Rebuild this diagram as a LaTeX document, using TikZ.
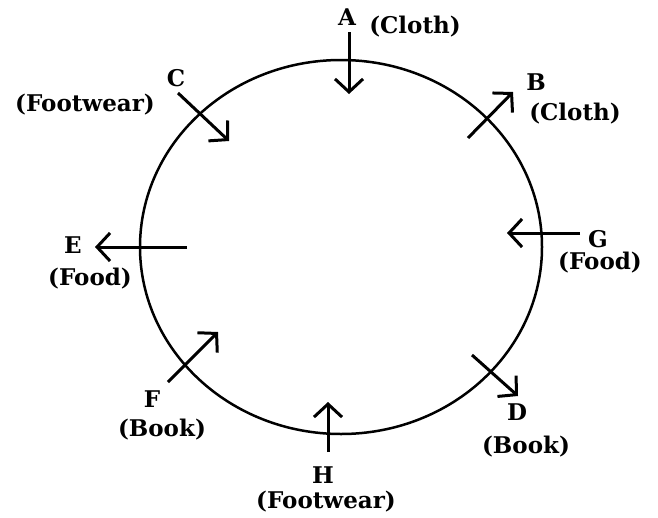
\documentclass[tikz,border=0pt]{standalone}
\usepackage{fontspec}
\setmainfont{DejaVu Serif}
\usetikzlibrary{arrows.meta}
\begin{document}
\begin{tikzpicture}[x=1pt,y=-1pt,
  lbl/.style={font=\bfseries\fontsize{23}{25}\selectfont, text=black, inner sep=0pt},
  ring/.style={line width=2.5pt},
  pointer/.style={line width=3pt, -{Straight Barb[length=13pt,width=28pt,line width=3pt]}}]
\useasboundingbox (0,0) rectangle (658,517);
\draw[ring] (341,247) ellipse [x radius=201, y radius=187];
% arrow end points
\coordinate (a1) at (349,32);  \coordinate (a2) at (349,94);
\coordinate (c1) at (178,93);  \coordinate (c2) at (229,141);
\coordinate (b1) at (468,138); \coordinate (b2) at (513,92);
\coordinate (e1) at (187,247); \coordinate (e2) at (95,247);
\coordinate (g1) at (580,233); \coordinate (g2) at (507,233);
\coordinate (f1) at (168,382); \coordinate (f2) at (218,332);
\coordinate (d1) at (472,355); \coordinate (d2) at (518,396);
\coordinate (h1) at (328,452); \coordinate (h2) at (328,402);
\foreach \p in {a,c,b,e,g,f,d,h} \draw[pointer] (\p1) -- (\p2);
% labels
\node[lbl] (A) at (347,17) {A};
\node[lbl] (Ac) at (415,27) {(Cloth)};
\node[lbl] (C) at (176,78) {C};
\node[lbl] (Cf) at (85,105) {(Footwear)};
\node[lbl] (B) at (536,82) {B};
\node[lbl] (Bc) at (575,114) {(Cloth)};
\node[lbl] (E) at (73,245) {E};
\node[lbl] (Ef) at (90,279) {(Food)};
\node[lbl] (G) at (598,239) {G};
\node[lbl] (Gf) at (600,263) {(Food)};
\node[lbl] (F) at (152,399) {F};
\node[lbl] (Fb) at (162,430) {(Book)};
\node[lbl] (D) at (517,412) {D};
\node[lbl] (Db) at (526,447) {(Book)};
\node[lbl] (H) at (323,475) {H};
\node[lbl] (Hf) at (326,502) {(Footwear)};
\end{tikzpicture}
\end{document}
